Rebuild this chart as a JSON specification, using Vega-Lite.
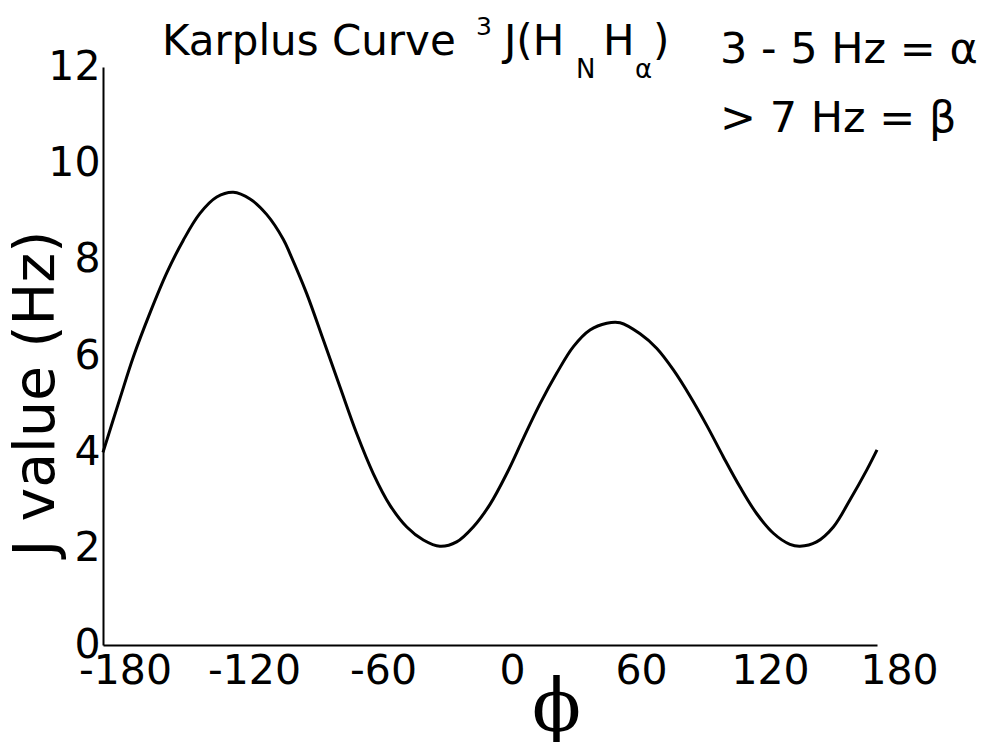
{
  "$schema": "https://vega.github.io/schema/vega-lite/v6.json",
  "autosize": "none",
  "width": 774,
  "height": 578,
  "padding": {"left": 103, "top": 67, "right": 113, "bottom": 97},
  "background": "white",
  "config": {
    "view": {"stroke": null},
    "axis": {"grid": false, "ticks": false, "domainColor": "black", "domainWidth": 2, "labelColor": "black", "titleColor": "black", "labelFont": "DejaVu Sans", "titleFont": "DejaVu Sans", "labelFlush": false, "labelOverlap": false}
  },
  "data": {
    "values": [
      {"phi": -180, "J": 4.0}, {"phi": -172.1, "J": 5.12}, {"phi": -165.9, "J": 5.98}, {"phi": -158.1, "J": 6.90},
      {"phi": -150.4, "J": 7.72}, {"phi": -142.7, "J": 8.40}, {"phi": -134.9, "J": 8.96}, {"phi": -127.1, "J": 9.30},
      {"phi": -119.4, "J": 9.40}, {"phi": -111.6, "J": 9.26}, {"phi": -103.9, "J": 8.94}, {"phi": -96.1, "J": 8.42},
      {"phi": -93.0, "J": 8.12}, {"phi": -85.3, "J": 7.30}, {"phi": -77.5, "J": 6.33}, {"phi": -69.8, "J": 5.36},
      {"phi": -62.0, "J": 4.39}, {"phi": -54.3, "J": 3.56}, {"phi": -46.5, "J": 2.90}, {"phi": -38.7, "J": 2.45},
      {"phi": -31.0, "J": 2.18}, {"phi": -23.3, "J": 2.05}, {"phi": -15.5, "J": 2.14}, {"phi": -7.8, "J": 2.45},
      {"phi": 0, "J": 2.92}, {"phi": 7.8, "J": 3.56}, {"phi": 15.5, "J": 4.29}, {"phi": 23.3, "J": 5.01},
      {"phi": 31.0, "J": 5.64}, {"phi": 38.7, "J": 6.19}, {"phi": 46.5, "J": 6.54}, {"phi": 54.3, "J": 6.68},
      {"phi": 60.5, "J": 6.69}, {"phi": 69.8, "J": 6.46}, {"phi": 77.5, "J": 6.16}, {"phi": 85.3, "J": 5.71},
      {"phi": 93.0, "J": 5.17}, {"phi": 100.8, "J": 4.56}, {"phi": 108.5, "J": 3.91}, {"phi": 116.3, "J": 3.28},
      {"phi": 124.0, "J": 2.73}, {"phi": 131.8, "J": 2.32}, {"phi": 139.5, "J": 2.09}, {"phi": 144.2, "J": 2.05},
      {"phi": 151.9, "J": 2.14}, {"phi": 159.7, "J": 2.45}, {"phi": 167.4, "J": 3.01}, {"phi": 175.2, "J": 3.63},
      {"phi": 180, "J": 4.05}
    ]
  },
  "layer": [
    {
      "mark": {"type": "line", "color": "black", "strokeWidth": 3, "interpolate": "catmull-rom"},
      "encoding": {
        "x": {"field": "phi", "type": "quantitative", "scale": {"domain": [-180, 180], "nice": false, "zero": false},
          "axis": {"values": [-180, -120, -60, 0, 60, 120, 180], "labelExpr": "'' + datum.value", "labelFontSize": 41, "labelPadding": 6, "labelOffset": 22,
            "title": "ϕ", "titleFont": "DejaVu Serif", "titleFontSize": 72, "titleFontWeight": "normal", "titleX": 453, "titleY": 85, "titleAlign": "center", "titleBaseline": "alphabetic"}},
        "y": {"field": "J", "type": "quantitative", "scale": {"domain": [0, 12], "nice": false},
          "axis": {"values": [0, 2, 4, 6, 8, 10, 12], "labelFontSize": 41, "labelPadding": 3, "labelBaseline": "middle",
            "title": "J value (Hz)", "titleFontSize": 57, "titleFontWeight": "normal", "titleAngle": -90, "titleX": -67, "titleY": 326, "titleAlign": "center", "titleBaseline": "middle"}}
      }
    },
    {"data": {"values": [{}]}, "mark": {"type": "text", "text": "Karplus Curve", "align": "left", "baseline": "alphabetic", "font": "DejaVu Sans", "fontSize": 42, "color": "black"},
      "encoding": {"x": {"datum": -152.6}, "y": {"datum": 12.24}}},
    {"data": {"values": [{}]}, "mark": {"type": "text", "text": "3", "align": "left", "baseline": "alphabetic", "font": "DejaVu Sans", "fontSize": 25, "color": "black"},
      "encoding": {"x": {"datum": -6.5}, "y": {"datum": 12.66}}},
    {"data": {"values": [{}]}, "mark": {"type": "text", "text": "J(H", "align": "left", "baseline": "alphabetic", "font": "DejaVu Sans", "fontSize": 42, "color": "black"},
      "encoding": {"x": {"datum": 6.5}, "y": {"datum": 12.24}}},
    {"data": {"values": [{}]}, "mark": {"type": "text", "text": "N", "align": "left", "baseline": "alphabetic", "font": "DejaVu Sans", "fontSize": 26, "color": "black"},
      "encoding": {"x": {"datum": 40.0}, "y": {"datum": 11.77}}},
    {"data": {"values": [{}]}, "mark": {"type": "text", "text": "H", "align": "left", "baseline": "alphabetic", "font": "DejaVu Sans", "fontSize": 42, "color": "black"},
      "encoding": {"x": {"datum": 52.6}, "y": {"datum": 12.24}}},
    {"data": {"values": [{}]}, "mark": {"type": "text", "text": "α", "align": "left", "baseline": "alphabetic", "font": "DejaVu Sans", "fontSize": 26, "color": "black"},
      "encoding": {"x": {"datum": 67.4}, "y": {"datum": 11.77}}},
    {"data": {"values": [{}]}, "mark": {"type": "text", "text": ")", "align": "left", "baseline": "alphabetic", "font": "DejaVu Sans", "fontSize": 42, "color": "black"},
      "encoding": {"x": {"datum": 75.8}, "y": {"datum": 12.24}}},
    {"data": {"values": [{}]}, "mark": {"type": "text", "text": "3 - 5 Hz = α", "align": "left", "baseline": "alphabetic", "font": "DejaVu Sans", "fontSize": 43, "color": "black"},
      "encoding": {"x": {"datum": 107.0}, "y": {"datum": 12.08}}},
    {"data": {"values": [{}]}, "mark": {"type": "text", "text": "> 7 Hz = β", "align": "left", "baseline": "alphabetic", "font": "DejaVu Sans", "fontSize": 43, "color": "black"},
      "encoding": {"x": {"datum": 107.0}, "y": {"datum": 10.65}}}
  ]
}
